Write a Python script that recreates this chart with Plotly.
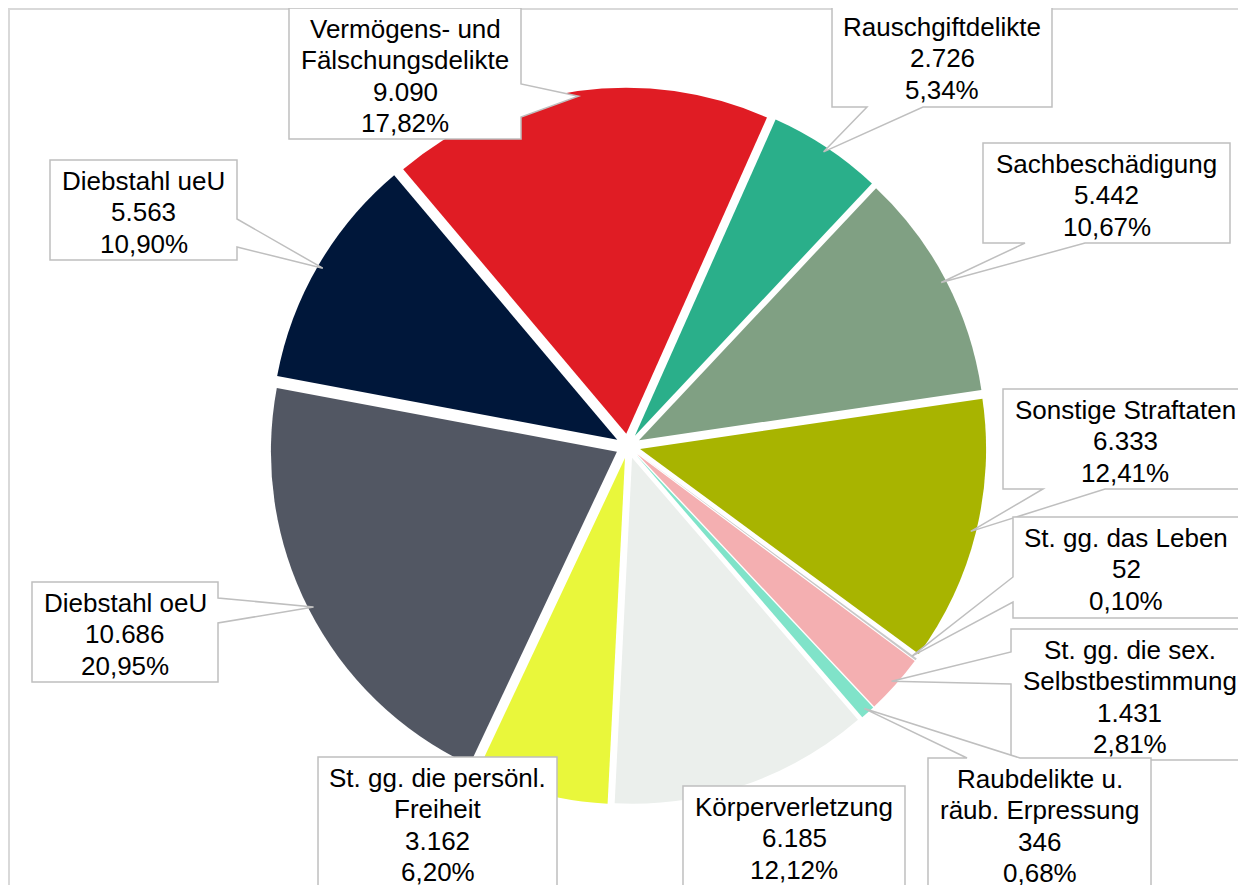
import math
import plotly.graph_objects as go

# ---------------- data ----------------
categories = [
    "Rauschgiftdelikte",
    "Sachbeschädigung",
    "Sonstige Straftaten",
    "St. gg. das Leben",
    "St. gg. die sex. Selbstbestimmung",
    "Raubdelikte u. räub. Erpressung",
    "Körperverletzung",
    "St. gg. die persönl. Freiheit",
    "Diebstahl oeU",
    "Diebstahl ueU",
    "Vermögens- und Fälschungsdelikte",
]
values = [2726, 5442, 6333, 52, 1431, 346, 6185, 3162, 10686, 5563, 9090]
colors = ["#2aaf8a", "#80a083", "#a8b400", "#c8c8c8", "#f4afb1", "#80e3c9",
          "#ebefec", "#e9f73b", "#525763", "#00173a", "#e01c24"]

# how the category names wrap inside the callouts
label_lines = {
    "St. gg. die sex. Selbstbestimmung": ["St. gg. die sex.", "Selbstbestimmung"],
    "Raubdelikte u. räub. Erpressung": ["Raubdelikte u.", "räub. Erpressung"],
    "St. gg. die persönl. Freiheit": ["St. gg. die persönl.", "Freiheit"],
    "Vermögens- und Fälschungsdelikte": ["Vermögens- und", "Fälschungsdelikte"],
}

# ---------------- layout constants (page pixels) ----------------
W, H = 1246, 885
OFF = 8            # page margin around the plot div
CX, CY = 628, 446
R = 346
PULL = 0.036
ROT = 24
TIP_K = 0.985
FONT = "Liberation Sans, Arial, sans-serif"

# callout boxes: x0, y0, x1, y1, wedge side, wedge base start, wedge base end
callouts = {
    "Vermögens- und Fälschungsdelikte": (289, 8, 521, 139, "right", 84, 117),
    "Rauschgiftdelikte": (832, 6, 1052, 107, "bottom", 867, 923),
    "Sachbeschädigung": (983, 143, 1230, 243, "bottom", 1025, 1085),
    "Sonstige Straftaten": (1003, 389, 1247, 489, "bottom", 1043, 1105),
    "St. gg. das Leben": (1013, 517, 1239, 618, "left", 577, 602),
    "St. gg. die sex. Selbstbestimmung": (1011, 629, 1248, 760, "left", 652, 684),
    "Raubdelikte u. räub. Erpressung": (928, 758, 1151, 920, "top", 967, 1020),
    "Körperverletzung": (683, 786, 905, 920, None, 0, 0),
    "St. gg. die persönl. Freiheit": (318, 757, 557, 920, None, 0, 0),
    "Diebstahl oeU": (32, 582, 218, 682, "right", 598, 623),
    "Diebstahl ueU": (50, 160, 237, 260, "right", 219, 247),
}


def px(x):
    return (x - OFF) / W


def py(y):
    return 1 - (y - OFF) / H


total = sum(values)
half = R * (1 + PULL)

fig = go.Figure(go.Pie(
    labels=categories,
    values=values,
    sort=False,
    direction="clockwise",
    rotation=ROT,
    pull=PULL,
    marker=dict(colors=colors, line=dict(width=0)),
    textinfo="none",
    hoverinfo="label+value+percent",
    showlegend=False,
    domain=dict(x=[px(CX - half), px(CX + half)],
                y=[py(CY + half), py(CY - half)]),
))

shapes = [dict(type="rect", xref="paper", yref="paper",
               x0=px(9), y0=py(1200), x1=px(1400), y1=py(9),
               line=dict(color="#d9d9d9", width=2), fillcolor="rgba(0,0,0,0)",
               layer="below")]
annotations = []

cum = 0
for name, v in zip(categories, values):
    mid = math.radians(ROT + 360 * (cum + v / 2) / total)
    cum += v
    sx, sy = math.sin(mid), -math.cos(mid)
    ccx = CX + PULL * R * sx
    ccy = CY + PULL * R * sy
    tip = (ccx + TIP_K * R * sx, ccy + TIP_K * R * sy)

    x0, y0, x1, y1, side, b0, b1 = callouts[name]
    if side == "right":
        pts = [(x0, y0), (x1, y0), (x1, b0), tip, (x1, b1), (x1, y1), (x0, y1)]
    elif side == "left":
        pts = [(x0, y0), (x1, y0), (x1, y1), (x0, y1), (x0, b1), tip, (x0, b0)]
    elif side == "top":
        pts = [(x0, y0), (b0, y0), tip, (b1, y0), (x1, y0), (x1, y1), (x0, y1)]
    elif side == "bottom":
        pts = [(x0, y0), (x1, y0), (x1, y1), (b1, y1), tip, (b0, y1), (x0, y1)]
    else:
        pts = [(x0, y0), (x1, y0), (x1, y1), (x0, y1)]
    path = "M " + " L ".join(f"{px(a):.5f},{py(b):.5f}" for a, b in pts) + " Z"
    shapes.append(dict(type="path", xref="paper", yref="paper", path=path,
                       fillcolor="white", line=dict(color="#bfbfbf", width=1.5),
                       layer="above"))

    lines = label_lines.get(name, [name]) + [
        f"{v:,}".replace(",", "."),
        f"{100 * v / total:.2f}".replace(".", ",") + "%",
    ]
    for i, t in enumerate(lines):
        annotations.append(dict(
            x=px((x0 + x1) / 2), y=py(y0 + 21 + 31.3 * i),
            xref="paper", yref="paper", xanchor="center", yanchor="middle",
            text=t, showarrow=False,
            font=dict(family=FONT, size=26, color="#000000"),
        ))

fig.update_layout(
    width=W, height=H,
    margin=dict(l=0, r=0, t=0, b=0),
    paper_bgcolor="white",
    plot_bgcolor="white",
    shapes=shapes,
    annotations=annotations,
)

fig.write_html("out.html")
